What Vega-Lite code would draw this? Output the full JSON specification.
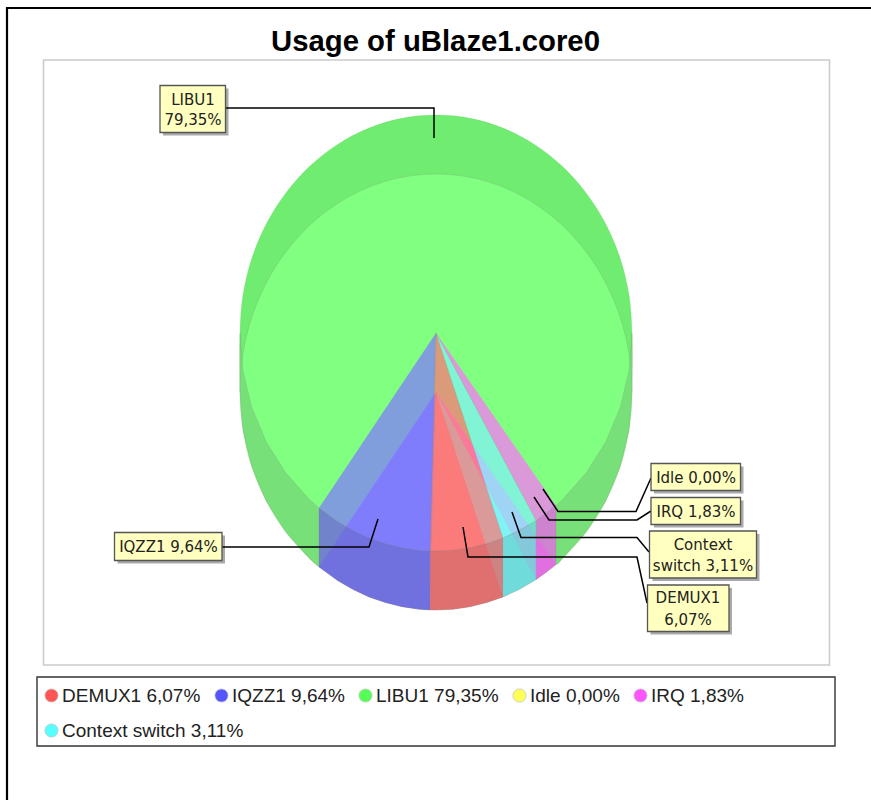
{"$schema":"https://vega.github.io/schema/vega-lite/v6.json","width":871,"height":800,"padding":0,"autosize":{"type":"none"},"background":"white","config":{"view":{"stroke":null},"legend":{"gridAlign":"none"}},
"title":{"text":"Usage of uBlaze1.core0","font":"Liberation Sans","fontSize":29.3,"fontWeight":"bold","color":"black","anchor":"middle","baseline":"alphabetic","offset":0,"dy":80},
"datasets":{
"frame":[{"x":7,"y":800,"n":0},{"x":7,"y":8,"n":1},{"x":871,"y":8,"n":2}],
"boxes":[{"name":"plot","x":43.5,"x2":829.5,"y":60,"y2":665},{"name":"legend","x":37,"x2":835,"y":677,"y2":746}],
"outlines":[
{"part":"back","slice":"LIBU1","piece":"back","n":0,"x":632,"y":392},{"part":"back","slice":"LIBU1","piece":"back","n":1,"x":632,"y":333},{"part":"back","slice":"LIBU1","piece":"back","n":2,"x":629,"y":295.1},{"part":"back","slice":"LIBU1","piece":"back","n":3,"x":620.2,"y":258.4},{"part":"back","slice":"LIBU1","piece":"back","n":4,"x":605.7,"y":224},{"part":"back","slice":"LIBU1","piece":"back","n":5,"x":586.1,"y":192.9},{"part":"back","slice":"LIBU1","piece":"back","n":6,"x":562,"y":166},{"part":"back","slice":"LIBU1","piece":"back","n":7,"x":534,"y":144.2},{"part":"back","slice":"LIBU1","piece":"back","n":8,"x":503,"y":128.1},{"part":"back","slice":"LIBU1","piece":"back","n":9,"x":470,"y":118.3},{"part":"back","slice":"LIBU1","piece":"back","n":10,"x":436,"y":115},{"part":"back","slice":"LIBU1","piece":"back","n":11,"x":402,"y":118.3},{"part":"back","slice":"LIBU1","piece":"back","n":12,"x":369,"y":128.1},{"part":"back","slice":"LIBU1","piece":"back","n":13,"x":338,"y":144.2},{"part":"back","slice":"LIBU1","piece":"back","n":14,"x":310,"y":166},{"part":"back","slice":"LIBU1","piece":"back","n":15,"x":285.9,"y":192.9},{"part":"back","slice":"LIBU1","piece":"back","n":16,"x":266.3,"y":224},{"part":"back","slice":"LIBU1","piece":"back","n":17,"x":251.8,"y":258.4},{"part":"back","slice":"LIBU1","piece":"back","n":18,"x":243,"y":295.1},{"part":"back","slice":"LIBU1","piece":"back","n":19,"x":240,"y":333},{"part":"back","slice":"LIBU1","piece":"back","n":20,"x":240,"y":392},
{"part":"green","slice":"LIBU1","piece":"f-g","n":0,"x":436,"y":392},{"part":"green","slice":"LIBU1","piece":"f-g","n":1,"x":556,"y":564.4},{"part":"green","slice":"LIBU1","piece":"f-g","n":2,"x":562,"y":559},{"part":"green","slice":"LIBU1","piece":"f-g","n":3,"x":586.1,"y":532.1},{"part":"green","slice":"LIBU1","piece":"f-g","n":4,"x":605.7,"y":501},{"part":"green","slice":"LIBU1","piece":"f-g","n":5,"x":620.2,"y":466.6},{"part":"green","slice":"LIBU1","piece":"f-g","n":6,"x":629,"y":429.9},{"part":"green","slice":"LIBU1","piece":"f-g","n":7,"x":632,"y":392},{"part":"green","slice":"LIBU1","piece":"f-g","n":8,"x":629,"y":354.1},{"part":"green","slice":"LIBU1","piece":"f-g","n":9,"x":620.2,"y":317.4},{"part":"green","slice":"LIBU1","piece":"f-g","n":10,"x":605.7,"y":283},{"part":"green","slice":"LIBU1","piece":"f-g","n":11,"x":586.1,"y":251.9},{"part":"green","slice":"LIBU1","piece":"f-g","n":12,"x":562,"y":225},{"part":"green","slice":"LIBU1","piece":"f-g","n":13,"x":534,"y":203.2},{"part":"green","slice":"LIBU1","piece":"f-g","n":14,"x":503,"y":187.1},{"part":"green","slice":"LIBU1","piece":"f-g","n":15,"x":470,"y":177.3},{"part":"green","slice":"LIBU1","piece":"f-g","n":16,"x":436,"y":174},{"part":"green","slice":"LIBU1","piece":"f-g","n":17,"x":402,"y":177.3},{"part":"green","slice":"LIBU1","piece":"f-g","n":18,"x":369,"y":187.1},{"part":"green","slice":"LIBU1","piece":"f-g","n":19,"x":338,"y":203.2},{"part":"green","slice":"LIBU1","piece":"f-g","n":20,"x":310,"y":225},{"part":"green","slice":"LIBU1","piece":"f-g","n":21,"x":285.9,"y":251.9},{"part":"green","slice":"LIBU1","piece":"f-g","n":22,"x":266.3,"y":283},{"part":"green","slice":"LIBU1","piece":"f-g","n":23,"x":251.8,"y":317.4},{"part":"green","slice":"LIBU1","piece":"f-g","n":24,"x":243,"y":354.1},{"part":"green","slice":"LIBU1","piece":"f-g","n":25,"x":240,"y":392},{"part":"green","slice":"LIBU1","piece":"f-g","n":26,"x":243,"y":429.9},{"part":"green","slice":"LIBU1","piece":"f-g","n":27,"x":251.8,"y":466.6},{"part":"green","slice":"LIBU1","piece":"f-g","n":28,"x":266.3,"y":501},{"part":"green","slice":"LIBU1","piece":"f-g","n":29,"x":285.9,"y":532.1},{"part":"green","slice":"LIBU1","piece":"f-g","n":30,"x":310,"y":559},{"part":"green","slice":"LIBU1","piece":"f-g","n":31,"x":319,"y":566.9},
{"part":"face","slice":"DEMUX1","piece":"f-r","n":0,"x":436,"y":392},{"part":"face","slice":"DEMUX1","piece":"f-r","n":1,"x":430,"y":609.9},{"part":"face","slice":"DEMUX1","piece":"f-r","n":2,"x":436,"y":610},{"part":"face","slice":"DEMUX1","piece":"f-r","n":3,"x":453.1,"y":609.2},{"part":"face","slice":"DEMUX1","piece":"f-r","n":4,"x":470,"y":606.7},{"part":"face","slice":"DEMUX1","piece":"f-r","n":5,"x":486.7,"y":602.6},{"part":"face","slice":"DEMUX1","piece":"f-r","n":6,"x":503,"y":596.9},
{"part":"face","slice":"IQZZ1","piece":"f-b","n":0,"x":436,"y":392},{"part":"face","slice":"IQZZ1","piece":"f-b","n":1,"x":430,"y":609.9},{"part":"face","slice":"IQZZ1","piece":"f-b","n":2,"x":418.9,"y":609.2},{"part":"face","slice":"IQZZ1","piece":"f-b","n":3,"x":402,"y":606.7},{"part":"face","slice":"IQZZ1","piece":"f-b","n":4,"x":385.3,"y":602.6},{"part":"face","slice":"IQZZ1","piece":"f-b","n":5,"x":369,"y":596.9},{"part":"face","slice":"IQZZ1","piece":"f-b","n":6,"x":353.2,"y":589.6},{"part":"face","slice":"IQZZ1","piece":"f-b","n":7,"x":338,"y":580.8},{"part":"face","slice":"IQZZ1","piece":"f-b","n":8,"x":319,"y":566.9},
{"part":"face","slice":"Context switch","piece":"f-c","n":0,"x":436,"y":392},{"part":"face","slice":"Context switch","piece":"f-c","n":1,"x":503,"y":596.9},{"part":"face","slice":"Context switch","piece":"f-c","n":2,"x":518.8,"y":589.6},{"part":"face","slice":"Context switch","piece":"f-c","n":3,"x":536.1,"y":579.5},
{"part":"face","slice":"IRQ","piece":"f-m","n":0,"x":436,"y":392},{"part":"face","slice":"IRQ","piece":"f-m","n":1,"x":536.1,"y":579.5},{"part":"face","slice":"IRQ","piece":"f-m","n":2,"x":545.6,"y":572.7},{"part":"face","slice":"IRQ","piece":"f-m","n":3,"x":556,"y":564.4},
{"part":"wall","slice":"LIBU1","piece":"w-gl","n":0,"x":319,"y":507.9},{"part":"wall","slice":"LIBU1","piece":"w-gl","n":1,"x":310,"y":500},{"part":"wall","slice":"LIBU1","piece":"w-gl","n":2,"x":285.9,"y":473.1},{"part":"wall","slice":"LIBU1","piece":"w-gl","n":3,"x":266.3,"y":442},{"part":"wall","slice":"LIBU1","piece":"w-gl","n":4,"x":251.8,"y":407.6},{"part":"wall","slice":"LIBU1","piece":"w-gl","n":5,"x":243,"y":370.9},{"part":"wall","slice":"LIBU1","piece":"w-gl","n":6,"x":240,"y":333},{"part":"wall","slice":"LIBU1","piece":"w-gl","n":7,"x":240,"y":392},{"part":"wall","slice":"LIBU1","piece":"w-gl","n":8,"x":243,"y":429.9},{"part":"wall","slice":"LIBU1","piece":"w-gl","n":9,"x":251.8,"y":466.6},{"part":"wall","slice":"LIBU1","piece":"w-gl","n":10,"x":266.3,"y":501},{"part":"wall","slice":"LIBU1","piece":"w-gl","n":11,"x":285.9,"y":532.1},{"part":"wall","slice":"LIBU1","piece":"w-gl","n":12,"x":310,"y":559},{"part":"wall","slice":"LIBU1","piece":"w-gl","n":13,"x":319,"y":566.9},
{"part":"wall","slice":"LIBU1","piece":"w-gr","n":0,"x":556,"y":505.4},{"part":"wall","slice":"LIBU1","piece":"w-gr","n":1,"x":562,"y":500},{"part":"wall","slice":"LIBU1","piece":"w-gr","n":2,"x":586.1,"y":473.1},{"part":"wall","slice":"LIBU1","piece":"w-gr","n":3,"x":605.7,"y":442},{"part":"wall","slice":"LIBU1","piece":"w-gr","n":4,"x":620.2,"y":407.6},{"part":"wall","slice":"LIBU1","piece":"w-gr","n":5,"x":629,"y":370.9},{"part":"wall","slice":"LIBU1","piece":"w-gr","n":6,"x":632,"y":333},{"part":"wall","slice":"LIBU1","piece":"w-gr","n":7,"x":632,"y":392},{"part":"wall","slice":"LIBU1","piece":"w-gr","n":8,"x":629,"y":429.9},{"part":"wall","slice":"LIBU1","piece":"w-gr","n":9,"x":620.2,"y":466.6},{"part":"wall","slice":"LIBU1","piece":"w-gr","n":10,"x":605.7,"y":501},{"part":"wall","slice":"LIBU1","piece":"w-gr","n":11,"x":586.1,"y":532.1},{"part":"wall","slice":"LIBU1","piece":"w-gr","n":12,"x":562,"y":559},{"part":"wall","slice":"LIBU1","piece":"w-gr","n":13,"x":556,"y":564.4},
{"part":"wall","slice":"IQZZ1","piece":"w-b","n":0,"x":430,"y":550.9},{"part":"wall","slice":"IQZZ1","piece":"w-b","n":1,"x":418.9,"y":550.2},{"part":"wall","slice":"IQZZ1","piece":"w-b","n":2,"x":402,"y":547.7},{"part":"wall","slice":"IQZZ1","piece":"w-b","n":3,"x":385.3,"y":543.6},{"part":"wall","slice":"IQZZ1","piece":"w-b","n":4,"x":369,"y":537.9},{"part":"wall","slice":"IQZZ1","piece":"w-b","n":5,"x":353.2,"y":530.6},{"part":"wall","slice":"IQZZ1","piece":"w-b","n":6,"x":338,"y":521.8},{"part":"wall","slice":"IQZZ1","piece":"w-b","n":7,"x":319,"y":507.9},{"part":"wall","slice":"IQZZ1","piece":"w-b","n":8,"x":319,"y":566.9},{"part":"wall","slice":"IQZZ1","piece":"w-b","n":9,"x":338,"y":580.8},{"part":"wall","slice":"IQZZ1","piece":"w-b","n":10,"x":353.2,"y":589.6},{"part":"wall","slice":"IQZZ1","piece":"w-b","n":11,"x":369,"y":596.9},{"part":"wall","slice":"IQZZ1","piece":"w-b","n":12,"x":385.3,"y":602.6},{"part":"wall","slice":"IQZZ1","piece":"w-b","n":13,"x":402,"y":606.7},{"part":"wall","slice":"IQZZ1","piece":"w-b","n":14,"x":418.9,"y":609.2},{"part":"wall","slice":"IQZZ1","piece":"w-b","n":15,"x":430,"y":609.9},
{"part":"wall","slice":"DEMUX1","piece":"w-r","n":0,"x":430,"y":550.9},{"part":"wall","slice":"DEMUX1","piece":"w-r","n":1,"x":436,"y":551},{"part":"wall","slice":"DEMUX1","piece":"w-r","n":2,"x":453.1,"y":550.2},{"part":"wall","slice":"DEMUX1","piece":"w-r","n":3,"x":470,"y":547.7},{"part":"wall","slice":"DEMUX1","piece":"w-r","n":4,"x":486.7,"y":543.6},{"part":"wall","slice":"DEMUX1","piece":"w-r","n":5,"x":503,"y":537.9},{"part":"wall","slice":"DEMUX1","piece":"w-r","n":6,"x":503,"y":596.9},{"part":"wall","slice":"DEMUX1","piece":"w-r","n":7,"x":486.7,"y":602.6},{"part":"wall","slice":"DEMUX1","piece":"w-r","n":8,"x":470,"y":606.7},{"part":"wall","slice":"DEMUX1","piece":"w-r","n":9,"x":453.1,"y":609.2},{"part":"wall","slice":"DEMUX1","piece":"w-r","n":10,"x":436,"y":610},{"part":"wall","slice":"DEMUX1","piece":"w-r","n":11,"x":430,"y":609.9},
{"part":"wall","slice":"Context switch","piece":"w-c","n":0,"x":503,"y":537.9},{"part":"wall","slice":"Context switch","piece":"w-c","n":1,"x":518.8,"y":530.6},{"part":"wall","slice":"Context switch","piece":"w-c","n":2,"x":536.1,"y":520.5},{"part":"wall","slice":"Context switch","piece":"w-c","n":3,"x":536.1,"y":579.5},{"part":"wall","slice":"Context switch","piece":"w-c","n":4,"x":518.8,"y":589.6},{"part":"wall","slice":"Context switch","piece":"w-c","n":5,"x":503,"y":596.9},
{"part":"wall","slice":"IRQ","piece":"w-m","n":0,"x":536.1,"y":520.5},{"part":"wall","slice":"IRQ","piece":"w-m","n":1,"x":545.6,"y":513.7},{"part":"wall","slice":"IRQ","piece":"w-m","n":2,"x":556,"y":505.4},{"part":"wall","slice":"IRQ","piece":"w-m","n":3,"x":556,"y":564.4},{"part":"wall","slice":"IRQ","piece":"w-m","n":4,"x":545.6,"y":572.7},{"part":"wall","slice":"IRQ","piece":"w-m","n":5,"x":536.1,"y":579.5},
{"part":"top","slice":"IQZZ1","piece":"t-b","n":0,"x":436,"y":333},{"part":"top","slice":"IQZZ1","piece":"t-b","n":1,"x":430,"y":550.9},{"part":"top","slice":"IQZZ1","piece":"t-b","n":2,"x":418.9,"y":550.2},{"part":"top","slice":"IQZZ1","piece":"t-b","n":3,"x":402,"y":547.7},{"part":"top","slice":"IQZZ1","piece":"t-b","n":4,"x":385.3,"y":543.6},{"part":"top","slice":"IQZZ1","piece":"t-b","n":5,"x":369,"y":537.9},{"part":"top","slice":"IQZZ1","piece":"t-b","n":6,"x":353.2,"y":530.6},{"part":"top","slice":"IQZZ1","piece":"t-b","n":7,"x":338,"y":521.8},{"part":"top","slice":"IQZZ1","piece":"t-b","n":8,"x":319,"y":507.9},
{"part":"top","slice":"DEMUX1","piece":"t-r","n":0,"x":436,"y":333},{"part":"top","slice":"DEMUX1","piece":"t-r","n":1,"x":430,"y":550.9},{"part":"top","slice":"DEMUX1","piece":"t-r","n":2,"x":436,"y":551},{"part":"top","slice":"DEMUX1","piece":"t-r","n":3,"x":453.1,"y":550.2},{"part":"top","slice":"DEMUX1","piece":"t-r","n":4,"x":470,"y":547.7},{"part":"top","slice":"DEMUX1","piece":"t-r","n":5,"x":486.7,"y":543.6},{"part":"top","slice":"DEMUX1","piece":"t-r","n":6,"x":503,"y":537.9},
{"part":"top","slice":"Context switch","piece":"t-c","n":0,"x":436,"y":333},{"part":"top","slice":"Context switch","piece":"t-c","n":1,"x":503,"y":537.9},{"part":"top","slice":"Context switch","piece":"t-c","n":2,"x":518.8,"y":530.6},{"part":"top","slice":"Context switch","piece":"t-c","n":3,"x":536.1,"y":520.5},
{"part":"top","slice":"IRQ","piece":"t-m","n":0,"x":436,"y":333},{"part":"top","slice":"IRQ","piece":"t-m","n":1,"x":536.1,"y":520.5},{"part":"top","slice":"IRQ","piece":"t-m","n":2,"x":545.6,"y":513.7},{"part":"top","slice":"IRQ","piece":"t-m","n":3,"x":556,"y":505.4}
],
"leaders":[
{"slice":"LIBU1","n":0,"x":226,"y":108},{"slice":"LIBU1","n":1,"x":434,"y":108},{"slice":"LIBU1","n":2,"x":434,"y":138},
{"slice":"IQZZ1","n":0,"x":222,"y":547},{"slice":"IQZZ1","n":1,"x":369,"y":547},{"slice":"IQZZ1","n":2,"x":378,"y":519},
{"slice":"DEMUX1","n":0,"x":647,"y":603},{"slice":"DEMUX1","n":1,"x":637,"y":557},{"slice":"DEMUX1","n":2,"x":468,"y":557},{"slice":"DEMUX1","n":3,"x":463,"y":527},
{"slice":"Context switch","n":0,"x":649,"y":552},{"slice":"Context switch","n":1,"x":637,"y":537.5},{"slice":"Context switch","n":2,"x":521,"y":537.5},{"slice":"Context switch","n":3,"x":512,"y":512},
{"slice":"IRQ","n":0,"x":651,"y":511},{"slice":"IRQ","n":1,"x":637,"y":520},{"slice":"IRQ","n":2,"x":549,"y":520},{"slice":"IRQ","n":3,"x":534,"y":497},
{"slice":"Idle","n":0,"x":651,"y":478},{"slice":"Idle","n":1,"x":636,"y":511.5},{"slice":"Idle","n":2,"x":558,"y":511.5},{"slice":"Idle","n":3,"x":543,"y":489}
],
"tags":[
{"slice":"LIBU1","x":160,"x2":225.5,"y":85.5,"y2":132.5},
{"slice":"Idle","x":651,"x2":740.5,"y":463.5,"y2":490.5},
{"slice":"IRQ","x":651,"x2":740.5,"y":497.5,"y2":524.5},
{"slice":"Context switch","x":649.5,"x2":756.5,"y":531,"y2":578},
{"slice":"DEMUX1","x":647.5,"x2":729,"y":585,"y2":631.5},
{"slice":"IQZZ1","x":114.5,"x2":222,"y":532.5,"y2":560.5}
],
"tagText":[
{"text":"LIBU1","x":193,"y":99.5},{"text":"79,35%","x":193,"y":120},
{"text":"Idle 0,00%","x":696,"y":478},{"text":"IRQ 1,83%","x":696,"y":511.5},
{"text":"Context","x":703,"y":545},{"text":"switch 3,11%","x":703,"y":566},
{"text":"DEMUX1","x":688,"y":598},{"text":"6,07%","x":688,"y":619.5},
{"text":"IQZZ1 9,64%","x":168.5,"y":547}
],
"shares":[{"label":"DEMUX1 6,07%","share":6.07},{"label":"IQZZ1 9,64%","share":9.64},{"label":"LIBU1 79,35%","share":79.35},{"label":"Idle 0,00%","share":0},{"label":"IRQ 1,83%","share":1.83},{"label":"Context switch 3,11%","share":3.11}]
},
"layer":[
{"data":{"name":"boxes"},"transform":[{"filter":"datum.name==='plot'"}],"mark":{"type":"rect","fill":"white","stroke":"#cccccc","strokeWidth":1.6},"encoding":{"x":{"field":"x","type":"quantitative","scale":{"domain":[0,871],"nice":false,"zero":false},"axis":null},"x2":{"field":"x2"},"y":{"field":"y","type":"quantitative","scale":{"domain":[800,0],"nice":false,"zero":false},"axis":null},"y2":{"field":"y2"}}},
{"data":{"name":"boxes"},"transform":[{"filter":"datum.name==='legend'"}],"mark":{"type":"rect","fill":"white","stroke":"#333333","strokeWidth":1.4},"encoding":{"x":{"field":"x","type":"quantitative"},"x2":{"field":"x2"},"y":{"field":"y","type":"quantitative"},"y2":{"field":"y2"}}},
{"data":{"name":"frame"},"mark":{"type":"line","stroke":"black","strokeWidth":2.2},"encoding":{"x":{"field":"x","type":"quantitative"},"y":{"field":"y","type":"quantitative"},"order":{"field":"n"}}},
{"data":{"name":"outlines"},"transform":[{"filter":"datum.part==='back'"}],"mark":{"type":"line","interpolate":"catmull-rom","stroke":"#60c060","strokeOpacity":0.4,"strokeWidth":0.6},"encoding":{"x":{"field":"x","type":"quantitative"},"y":{"field":"y","type":"quantitative"},"order":{"field":"n"},"detail":{"field":"piece"},"fill":{"field":"slice","type":"nominal","legend":null,"scale":{"domain":["LIBU1"],"range":["#70EC70"]}}}},
{"data":{"name":"outlines"},"transform":[{"filter":"datum.part==='green'"}],"mark":{"type":"line","interpolate":"catmull-rom","stroke":"#808080","strokeOpacity":0.35,"strokeWidth":0.6},"encoding":{"x":{"field":"x","type":"quantitative"},"y":{"field":"y","type":"quantitative"},"order":{"field":"n"},"detail":{"field":"piece"},"fill":{"field":"slice","type":"nominal","legend":null,"scale":{"domain":["LIBU1"],"range":["#80FF80"]}}}},
{"data":{"name":"outlines"},"transform":[{"filter":"datum.part==='face'"}],"mark":{"type":"line","stroke":"#808080","strokeOpacity":0.35,"strokeWidth":0.6},"encoding":{"x":{"field":"x","type":"quantitative"},"y":{"field":"y","type":"quantitative"},"order":{"field":"n"},"detail":{"field":"piece"},"fill":{"field":"slice","type":"nominal","legend":null,"scale":{"domain":["DEMUX1","IQZZ1","IRQ","Context switch"],"range":["#FF8080","#8080FF","#FF80FF","#80FFFF"]}}}},
{"data":{"name":"outlines"},"transform":[{"filter":"datum.part==='wall'"}],"mark":{"type":"line","stroke":"#808080","strokeOpacity":0.35,"strokeWidth":0.6,"fillOpacity":0.85},"encoding":{"x":{"field":"x","type":"quantitative"},"y":{"field":"y","type":"quantitative"},"order":{"field":"n"},"detail":{"field":"piece"},"fill":{"field":"slice","type":"nominal","legend":null,"scale":{"domain":["DEMUX1","IQZZ1","LIBU1","IRQ","Context switch"],"range":["#DB6D6D","#6D6DD8","#77DB77","#DB6DDB","#6DD5D5"]}}}},
{"data":{"name":"outlines"},"transform":[{"filter":"datum.part==='top'"}],"mark":{"type":"line","stroke":"#808080","strokeOpacity":0.35,"strokeWidth":0.6,"fillOpacity":0.75},"encoding":{"x":{"field":"x","type":"quantitative"},"y":{"field":"y","type":"quantitative"},"order":{"field":"n"},"detail":{"field":"piece"},"fill":{"field":"slice","type":"nominal","legend":null,"scale":{"domain":["DEMUX1","IQZZ1","IRQ","Context switch"],"range":["#FA7878","#807CFB","#F878F8","#80F0F0"]}}}},
{"data":{"name":"tags"},"mark":{"type":"rect","fill":"#aaaaaa","xOffset":3,"x2Offset":3,"yOffset":3,"y2Offset":3},"encoding":{"x":{"field":"x","type":"quantitative"},"x2":{"field":"x2"},"y":{"field":"y","type":"quantitative"},"y2":{"field":"y2"}}},
{"data":{"name":"leaders"},"mark":{"type":"line","stroke":"black","strokeWidth":1.5},"encoding":{"x":{"field":"x","type":"quantitative"},"y":{"field":"y","type":"quantitative"},"order":{"field":"n"},"detail":{"field":"slice"}}},
{"data":{"name":"tags"},"mark":{"type":"rect","fill":"#FFFFC0","stroke":"#555555","strokeWidth":1.3},"encoding":{"x":{"field":"x","type":"quantitative"},"x2":{"field":"x2"},"y":{"field":"y","type":"quantitative"},"y2":{"field":"y2"}}},
{"data":{"name":"tagText"},"mark":{"type":"text","font":"DejaVu Sans","fontSize":15,"color":"#222222","align":"center","baseline":"middle"},"encoding":{"x":{"field":"x","type":"quantitative"},"y":{"field":"y","type":"quantitative"},"text":{"field":"text"}}},
{"data":{"name":"shares"},"transform":[{"filter":"datum.share!==3.11"}],"mark":{"type":"point","filled":true,"size":0},"encoding":{"fill":{"field":"label","type":"nominal","scale":{"domain":["DEMUX1 6,07%","IQZZ1 9,64%","LIBU1 79,35%","Idle 0,00%","IRQ 1,83%"],"range":["#FF5555","#5555FF","#55FF55","#FFFF55","#FF55FF"]},"legend":{"title":null,"orient":"none","direction":"horizontal","legendX":42,"legendY":686,"columns":5,"gridAlign":"none","columnPadding":11,"padding":0,"symbolType":"circle","symbolSize":175,"symbolOpacity":1,"symbolStrokeColor":"#c8c8c8","symbolStrokeWidth":0.8,"labelFont":"Liberation Sans","labelFontSize":19,"labelColor":"#222222","labelLimit":400,"labelOffset":1,"symbolOffset":0}}}},
{"data":{"name":"shares"},"transform":[{"filter":"datum.share===3.11"}],"mark":{"type":"point","filled":true,"size":0},"encoding":{"fill":{"field":"label","type":"nominal","scale":{"domain":["Context switch 3,11%"],"range":["#55FFFF"]},"legend":{"title":null,"orient":"none","direction":"horizontal","legendX":42,"legendY":721,"padding":0,"symbolType":"circle","symbolSize":175,"symbolOpacity":1,"symbolStrokeColor":"#c8c8c8","symbolStrokeWidth":0.8,"labelFont":"Liberation Sans","labelFontSize":19,"labelColor":"#222222","labelLimit":400,"labelOffset":1,"symbolOffset":0}}}}
],
"resolve":{"scale":{"fill":"independent"}}}
